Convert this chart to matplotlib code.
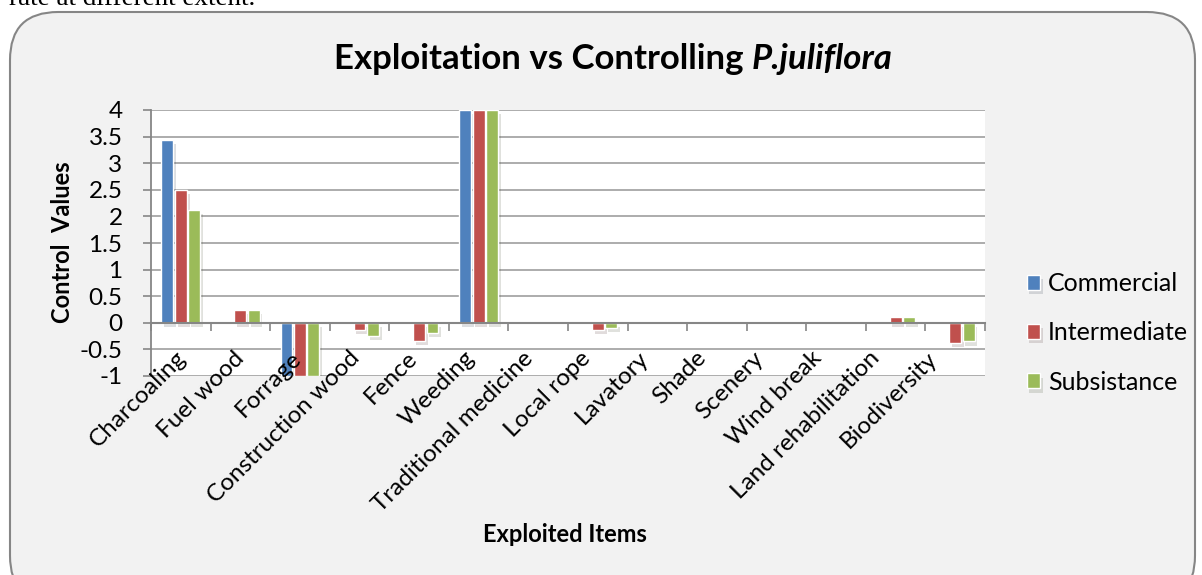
import matplotlib
matplotlib.use("Agg")
import matplotlib.pyplot as plt
import matplotlib.patheffects as pe
from matplotlib.patches import FancyBboxPatch
from matplotlib.transforms import offset_copy
import numpy as np

categories = ["Charcoaling", "Fuel wood", "Forrage", "Construction wood", "Fence",
              "Weeding", "Traditional medicine", "Local rope", "Lavatory", "Shade",
              "Scenery", "Wind break", "Land rehabilitation", "Biodiversity"]
commercial = [3.43, 0, -1, 0, 0, 4, 0, 0, 0, 0, 0, 0, 0, 0]
intermediate = [2.5, 0.25, -1, -0.14, -0.34, 4, 0, -0.14, 0, 0, 0, 0, 0.1, -0.38]
subsistence = [2.12, 0.25, -1, -0.25, -0.19, 4, 0, -0.1, 0, 0, 0, 0, 0.1, -0.35]
series_names = ["Commercial", "Intermediate", "Subsistance"]
colors = ["#4f81bd", "#c0504d", "#9bbb59"]
y_ticks = [4, 3.5, 3, 2.5, 2, 1.5, 1, 0.5, 0, -0.5, -1]

plt.rcParams["font.family"] = ["Lato", "DejaVu Sans"]

fig = plt.figure(figsize=(12.02, 5.75), dpi=100, facecolor="white")

# rounded chart frame
frame = FancyBboxPatch((10 / 1202, -0.05), 1185 / 1202, 1.05 - 12 / 575,
                       boxstyle="round,pad=0,rounding_size=0.04",
                       transform=fig.transFigure, facecolor="#f2f2f2",
                       edgecolor="#868686", linewidth=1.5, mutation_aspect=1202 / 575,
                       zorder=-5)
fig.patches.append(frame)
fig.text(9 / 1202, 1 - 5 / 575, "rate at different extent.", family="Liberation Serif",
         fontsize=19.5, va="baseline", ha="left")

ax = fig.add_axes([151 / 1202, 1 - 376 / 575, 834 / 1202, 266 / 575])
ax.set_zorder(2)
ax.set_facecolor("white")

x = np.arange(len(categories))
shadow = [pe.SimplePatchShadow(offset=(2, -3), alpha=0.15), pe.Normal()]
for k, vals in enumerate([commercial, intermediate, subsistence]):
    bars = ax.bar(x + (k - 1) * 0.225, vals, width=0.2, color=colors[k],
                  edgecolor="white", linewidth=1, zorder=3, label=series_names[k])
    for b, v in zip(bars, vals):
        if v == 0:
            b.set_visible(False)
        else:
            b.set_path_effects(shadow)

ax.set_xlim(-0.5, len(categories) - 0.5)
ax.set_ylim(-1, 4)
ax.set_yticks(y_ticks)
ax.set_yticklabels([f"{v:g}" for v in y_ticks], fontsize=17.5)
ax.yaxis.grid(True, color="#a6a6a6", linewidth=1.3, zorder=0)
ax.set_axisbelow(True)
for s in ["top", "right"]:
    ax.spines[s].set_visible(False)
ax.spines["left"].set_color("#868686")
ax.spines["left"].set_linewidth(1.3)
ax.spines["bottom"].set_position(("data", 0))
ax.spines["bottom"].set_color("#868686")
ax.spines["bottom"].set_linewidth(1.5)
ax.spines["bottom"].set_zorder(4)
ax.tick_params(axis="y", length=6, width=1.2, color="#868686", pad=14.5)
ax.set_xticks(np.arange(len(categories) + 1) - 0.5)
ax.set_xticklabels([])
ax.tick_params(axis="x", length=5.5, width=1.2, color="#868686", direction="out")

# category labels, rotated, hanging off the zero line
for i, name in enumerate(categories):
    tr = offset_copy(ax.transData, fig=fig, x=2 - 1.8 * i, y=-32, units="dots")
    ax.text(i, 0, name, transform=tr, rotation=45, rotation_mode="anchor",
            ha="right", va="center", fontsize=17.5, clip_on=False)

fig.text(62 / 1202, 1 - 242 / 575, "Control  Values", rotation=90, fontsize=17,
         fontweight="bold", ha="center", va="center")
fig.text(565 / 1202, 1 - 535 / 575, "Exploited Items", fontsize=17,
         fontweight="bold", ha="center", va="center")

# title with italic species name
fig.canvas.draw()
r = fig.canvas.get_renderer()
t1 = fig.text(0, 1 - 59 / 575, "Exploitation vs Controlling ", fontsize=25,
              fontweight="bold", va="center")
t2 = fig.text(0, 1 - 59 / 575, "P.juliflora", fontsize=25, fontweight="bold",
              style="italic", va="center")
w1 = t1.get_window_extent(r).width
w2 = t2.get_window_extent(r).width
x0 = 613 - (w1 + w2) / 2
t1.set_x(x0 / 1202)
t2.set_x((x0 + w1) / 1202)

ax.legend(loc="center left", bbox_to_anchor=(1004 / 1202, 1 - 333 / 575),
          bbox_transform=fig.transFigure, frameon=False, fontsize=18,
          handlelength=0.55, handleheight=0.55, handletextpad=0.3, labelspacing=1.05)

fig.savefig("out.png", dpi=100, facecolor=fig.get_facecolor())
